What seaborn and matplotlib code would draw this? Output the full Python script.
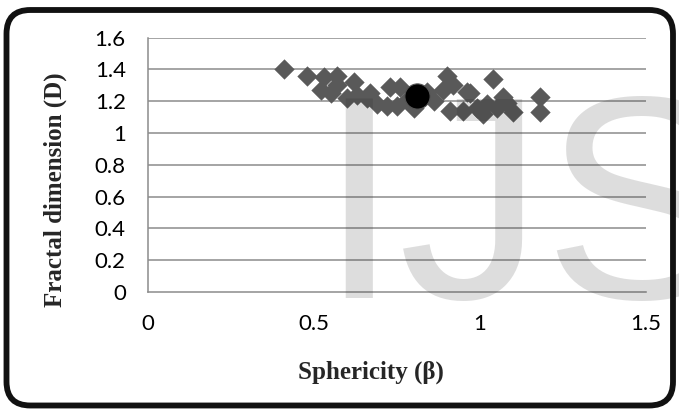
import matplotlib
matplotlib.use("Agg")
import matplotlib.pyplot as plt
from matplotlib.patches import FancyBboxPatch
import seaborn as sns
import pandas as pd

# Data
sphericity = [0.41, 0.48, 0.53, 0.57, 0.52, 0.55, 0.57, 0.60, 0.62, 0.63,
              0.66, 0.67, 0.69, 0.72, 0.73, 0.76, 0.75, 0.78, 0.80, 0.84,
              0.86, 0.89, 0.90, 0.92, 0.91, 0.96, 0.95, 0.97, 0.99, 1.01,
              1.02, 1.04, 1.05, 1.07, 1.08, 1.10, 1.18, 1.18]
fractal_dim = [1.40, 1.36, 1.35, 1.36, 1.27, 1.25, 1.30, 1.22, 1.32, 1.24,
               1.22, 1.25, 1.18, 1.17, 1.29, 1.29, 1.17, 1.21, 1.16, 1.26,
               1.20, 1.27, 1.36, 1.30, 1.14, 1.26, 1.14, 1.25, 1.16, 1.12,
               1.18, 1.34, 1.16, 1.23, 1.19, 1.13, 1.23, 1.13]
mean_sphericity = [0.81]
mean_fractal = [1.235]

x_ticks = [0, 0.5, 1, 1.5]
x_tick_labels = ["0", "0.5", "1", "1.5"]
y_ticks = [0, 0.2, 0.4, 0.6, 0.8, 1.0, 1.2, 1.4, 1.6]
y_tick_labels = ["0", "0.2", "0.4", "0.6", "0.8", "1", "1.2", "1.4", "1.6"]

df = pd.DataFrame({"x": sphericity, "y": fractal_dim})
df_mean = pd.DataFrame({"x": mean_sphericity, "y": mean_fractal})

sns.set_style("white")
plt.rcParams["font.family"] = ["Lato", "DejaVu Sans"]

W, H = 679, 409
fig = plt.figure(figsize=(W / 100, H / 100), dpi=100)
ax = fig.add_axes([148 / W, (H - 292) / H, (646 - 148) / W, (292 - 37.7) / H])

grid_c = "#8c8c8c"
sns.scatterplot(data=df, x="x", y="y", ax=ax, marker="D", s=100,
                color="#595959", edgecolor="#595959", linewidth=0.3, zorder=3)
sns.scatterplot(data=df_mean, x="x", y="y", ax=ax, marker="o", s=330,
                color="black", edgecolor="#555555", linewidth=0.8, zorder=4)

ax.set_xlim(0, 1.5)
ax.set_ylim(0, 1.6)
ax.set_xticks(x_ticks)
ax.set_xticklabels(x_tick_labels)
ax.set_yticks(y_ticks)
ax.set_yticklabels(y_tick_labels)
ax.set_xlabel("")
ax.set_ylabel("")
for yv in y_ticks[1:]:
    ax.axhline(yv, color=grid_c, lw=1.1, zorder=1)
for side in ["top", "right"]:
    ax.spines[side].set_visible(False)
for side in ["left", "bottom"]:
    ax.spines[side].set_color(grid_c)
    ax.spines[side].set_linewidth(1.1)
ax.tick_params(axis="both", which="major", direction="out", length=6,
               width=1.1, color=grid_c, labelsize=16, labelcolor="black", pad=10)

fig.text(55 / W, (H - 190) / H, "Fractal dimension (D)", rotation=90,
         ha="center", va="center", fontsize=18, fontweight="bold",
         family=["Liberation Serif"])
fig.text(371 / W, (H - 372) / H, "Sphericity (\u03b2)", ha="center",
         va="center", fontsize=18, fontweight="bold",
         family=["Liberation Serif", "DejaVu Serif"])

frame = FancyBboxPatch((6.5 / W, 3.5 / H), (673 - 6.5) / W, (399 - 3.5) / H,
                       boxstyle="round,pad=0,rounding_size=0.035",
                       transform=fig.transFigure, facecolor="none",
                       edgecolor="#111111", linewidth=4.2, zorder=7,
                       mutation_aspect=W / H)
fig.patches.append(frame)

# watermark, clipped to the frame
wm = fig.text(318 / W, (H - 298) / H, "IJS", ha="left", va="baseline",
              fontsize=209, family=["Liberation Sans"], color="#202020",
              alpha=0.15, zorder=6)
wm.set_clip_path(frame)

fig.savefig("out.png", dpi=100)
